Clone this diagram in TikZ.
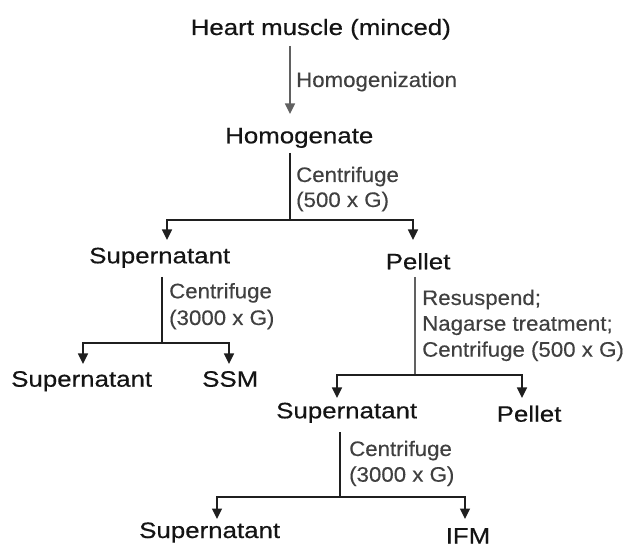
\documentclass[tikz,border=0pt]{standalone}
\usepackage{fontspec}
\setmainfont{Liberation Sans}
\newfontfamily\bigf[FakeStretch=1.16,FakeBold=0.5]{Liberation Sans}
\newfontfamily\smallf[FakeStretch=1.06,FakeBold=0.3]{Liberation Sans}
\usetikzlibrary{arrows.meta}
\begin{document}
\begin{tikzpicture}[x=1pt,y=-1pt,
  big/.style={anchor=base west, inner sep=0pt, font=\bigf\fontsize{22.3}{26}\selectfont, text=black!92},
  small/.style={anchor=base west, inner sep=0pt, font=\smallf\fontsize{21}{26}\selectfont, text=black!75},
  conn/.style={line width=1.3pt, draw=black!88},
  lightconn/.style={line width=1.3pt, draw=black!62},
  arr/.style={-{Triangle[width=10pt,length=10.5pt]}},
]
\useasboundingbox (0,0) rectangle (630,548);
% texts
\node[big] (heart) at (190.5,35) {Heart muscle (minced)};
\node[small] (homz) at (296,87) {Homogenization};
\node[big] (homog) at (225,143.3) {Homogenate};
\node[small] (c1a) at (296,182) {Centrifuge};
\node[small] (c1b) at (296,207) {(500 x G)};
\node[big] (sup1) at (89,263.3) {Supernatant};
\node[big] (pel1) at (385.5,269.3) {Pellet};
\node[small] (c2a) at (169,298.3) {Centrifuge};
\node[small] (c2b) at (169,325) {(3000 x G)};
\node[big] (sup2) at (11,386.7) {Supernatant};
\node[big] (ssm) at (202,386.7) {SSM};
\node[small] (r1) at (422,305) {Resuspend;};
\node[small] (r2) at (422,330.7) {Nagarse treatment;};
\node[small] (r3) at (422,356.7) {Centrifuge (500 x G)};
\node[big] (sup3) at (276,418.3) {Supernatant};
\node[big] (pel2) at (496.5,421.7) {Pellet};
\node[small] (c3a) at (349,456) {Centrifuge};
\node[small] (c3b) at (349,481.7) {(3000 x G)};
\node[big] (sup4) at (139,538) {Supernatant};
\node[big] (ifm) at (445.5,543.5) {IFM};
% connector points
\coordinate (a0) at (290,46);  \coordinate (a1) at (290,114);
\coordinate (b0) at (290,153); \coordinate (b1) at (290,220);
\coordinate (bl) at (167,240); \coordinate (br) at (413,240);
\coordinate (d0) at (162,277); \coordinate (d1) at (162,343);
\coordinate (dl) at (83,364);  \coordinate (dr) at (229,364);
\coordinate (e0) at (415,277); \coordinate (e1) at (415,375);
\coordinate (el) at (337,398); \coordinate (er) at (522,398);
\coordinate (f0) at (340,432); \coordinate (f1) at (340,497);
\coordinate (fl) at (217,519); \coordinate (fr) at (465,519);
% connectors
\draw[lightconn,arr] (a0) -- (a1);
\draw[conn] (b0) -- (b1);
\draw[conn,arr] (b1) -| (bl);
\draw[conn,arr] (b1) -| (br);
\draw[conn] (d0) -- (d1);
\draw[conn,arr] (d1) -| (dl);
\draw[conn,arr] (d1) -| (dr);
\draw[lightconn] (e0) -- (e1);
\draw[conn,arr] (e1) -| (el);
\draw[conn,arr] (e1) -| (er);
\draw[conn] (f0) -- (f1);
\draw[conn,arr] (f1) -| (fl);
\draw[conn,arr] (f1) -| (fr);
\end{tikzpicture}
\end{document}
